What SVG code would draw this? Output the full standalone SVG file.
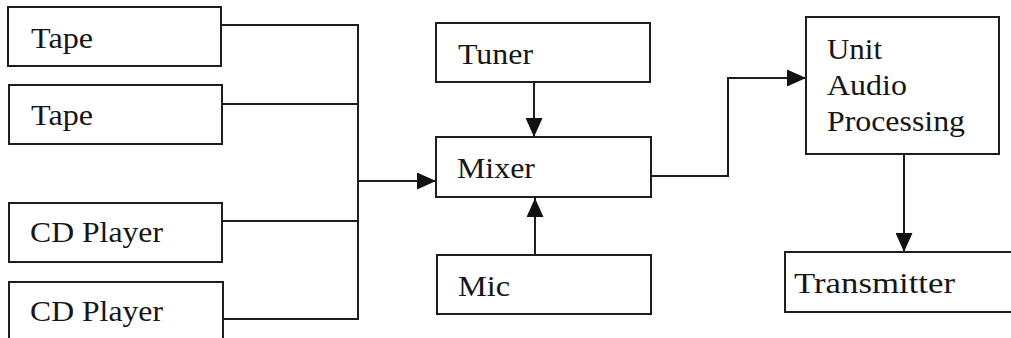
<svg xmlns="http://www.w3.org/2000/svg" width="1011" height="338" viewBox="0 0 1011 338">
<style>
.box{fill:#fff;stroke:#1e1e1e;stroke-width:2}
.ln{fill:none;stroke:#1e1e1e;stroke-width:2}
text{font-family:'Liberation Serif','Times New Roman',Times,serif;font-size:30px;fill:#161616}
</style>
<defs>
<marker id="ah" viewBox="0 0 19 17" refX="19" refY="8.5" markerWidth="19" markerHeight="17" markerUnits="userSpaceOnUse" orient="auto">
<path d="M0,0 L19,8.5 L0,17 Z" fill="#111"/>
</marker>
</defs>
<rect width="1011" height="338" fill="#fff"/>
<g id="connectors">
<polyline class="ln" points="221,25 358,25 358,319 223,319"/>
<line class="ln" x1="222" y1="104" x2="358" y2="104"/>
<line class="ln" x1="222" y1="221" x2="358" y2="221"/>
<line class="ln" x1="358" y1="181" x2="436" y2="181" marker-end="url(#ah)"/>
<line class="ln" x1="534" y1="82" x2="534" y2="137" marker-end="url(#ah)"/>
<line class="ln" x1="535" y1="255" x2="535" y2="198" marker-end="url(#ah)"/>
<polyline class="ln" points="651,176 728,176 728,78 806,78" marker-end="url(#ah)"/>
<line class="ln" x1="904" y1="154" x2="904" y2="252" marker-end="url(#ah)"/>
</g>
<g id="tape1"><rect class="box" x="8" y="7" width="213" height="59"/><text x="31" y="48" textLength="62" lengthAdjust="spacingAndGlyphs">Tape</text></g>
<g id="tape2"><rect class="box" x="9" y="85" width="213" height="59"/><text x="31" y="125" textLength="62" lengthAdjust="spacingAndGlyphs">Tape</text></g>
<g id="cd1"><rect class="box" x="9" y="203" width="213" height="59"/><text x="30" y="242" textLength="133" lengthAdjust="spacingAndGlyphs">CD Player</text></g>
<g id="cd2"><rect class="box" x="9" y="282" width="214" height="64"/><text x="30" y="321" textLength="133" lengthAdjust="spacingAndGlyphs">CD Player</text></g>
<g id="tuner"><rect class="box" x="436" y="23" width="214" height="59"/><text x="458" y="64" textLength="75" lengthAdjust="spacingAndGlyphs">Tuner</text></g>
<g id="mixer"><rect class="box" x="436" y="137" width="215" height="60"/><text x="457" y="178" textLength="78" lengthAdjust="spacingAndGlyphs">Mixer</text></g>
<g id="mic"><rect class="box" x="437" y="255" width="214" height="59"/><text x="458" y="296" textLength="52" lengthAdjust="spacingAndGlyphs">Mic</text></g>
<g id="uap"><rect class="box" x="806" y="17" width="193" height="137"/>
<text x="827" y="59" textLength="55" lengthAdjust="spacingAndGlyphs">Unit</text>
<text x="827" y="95" textLength="80" lengthAdjust="spacingAndGlyphs">Audio</text>
<text x="827" y="131" textLength="138" lengthAdjust="spacingAndGlyphs">Processing</text></g>
<g id="transmitter"><rect class="box" x="785" y="252" width="240" height="60"/><text x="794" y="293" textLength="161" lengthAdjust="spacingAndGlyphs">Transmitter</text></g>
</svg>
